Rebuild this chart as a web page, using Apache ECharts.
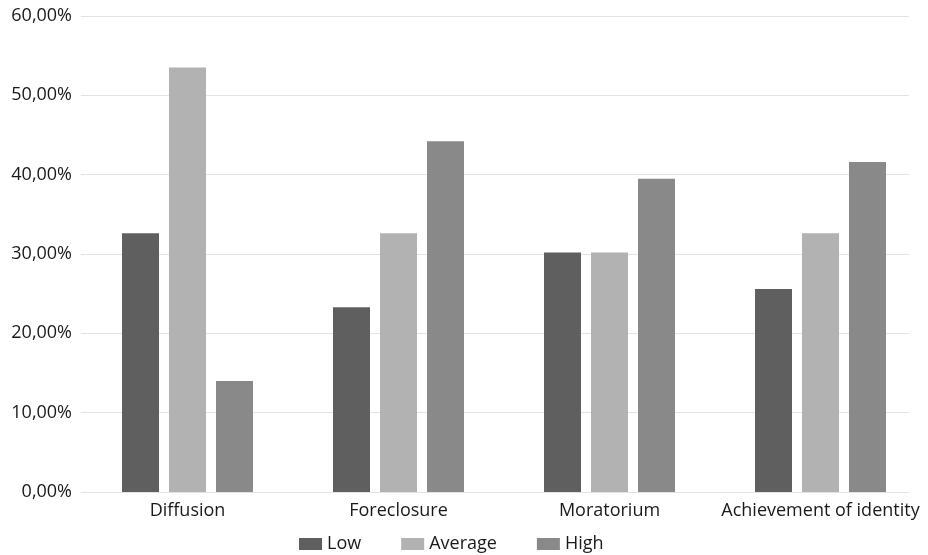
<!DOCTYPE html>
<html>
<head>
<meta charset="utf-8">
<script src="https://cdn.jsdelivr.net/npm/echarts@6/dist/echarts.min.js"></script>
<style>
html,body{margin:0;padding:0;background:#fff;}
#chart{width:928px;height:555px;}
</style>
</head>
<body>
<div id="chart"></div>
<script>
const categories = ["Diffusion", "Foreclosure", "Moratorium", "Achievement of identity"];
const seriesNames = ["Low", "Average", "High"];
const lowValues = [32.6, 23.3, 30.2, 25.6];
const averageValues = [53.5, 32.6, 30.2, 32.6];
const highValues = [14.0, 44.2, 39.5, 41.6];
const yTicks = [0, 10, 20, 30, 40, 50, 60];
const colors = ["#5f5f5f", "#b2b2b2", "#898989"];

const font = "'Open Sans', 'Liberation Sans', sans-serif";
const chart = echarts.init(document.getElementById('chart'), null, {renderer: 'canvas'});
const values = [lowValues, averageValues, highValues];

chart.setOption({
  animation: false,
  backgroundColor: '#ffffff',
  grid: [
    {left: 81, right: 19, top: 16, bottom: 63, containLabel: false},
    {left: 82, right: 2, top: 16, bottom: 63, containLabel: false}
  ],
  legend: {
    left: 294,
    top: 530,
    itemWidth: 23,
    itemHeight: 12,
    itemGap: 40,
    icon: 'rect',
    textStyle: {fontFamily: font, fontSize: 18, color: '#1a1a1a'},
    data: seriesNames
  },
  xAxis: [
    {type: 'category', gridIndex: 0, data: categories, show: false},
    {
      type: 'category', gridIndex: 1, data: categories,
      axisLine: {show: false}, axisTick: {show: false},
      axisLabel: {fontFamily: font, fontSize: 18, color: '#1a1a1a', margin: 10, interval: 0}
    }
  ],
  yAxis: [
    {
      type: 'value', gridIndex: 0, min: yTicks[0], max: yTicks[yTicks.length - 1], interval: 10,
      axisLine: {show: false}, axisTick: {show: false},
      splitLine: {lineStyle: {color: '#e3e3e3', width: 1}},
      axisLabel: {
        fontFamily: font, fontSize: 18, color: '#1a1a1a', margin: 9,
        formatter: v => v.toFixed(2).replace('.', ',') + '%'
      }
    },
    {
      type: 'value', gridIndex: 1, min: yTicks[0], max: yTicks[yTicks.length - 1], interval: 10,
      show: false, splitLine: {show: false}
    }
  ],
  series: seriesNames.map((name, i) => ({
    name: name,
    type: 'bar',
    xAxisIndex: 1,
    yAxisIndex: 1,
    data: values[i],
    barWidth: 37,
    barGap: '27%',
    itemStyle: {color: colors[i]}
  }))
});
</script>
</body>
</html>
